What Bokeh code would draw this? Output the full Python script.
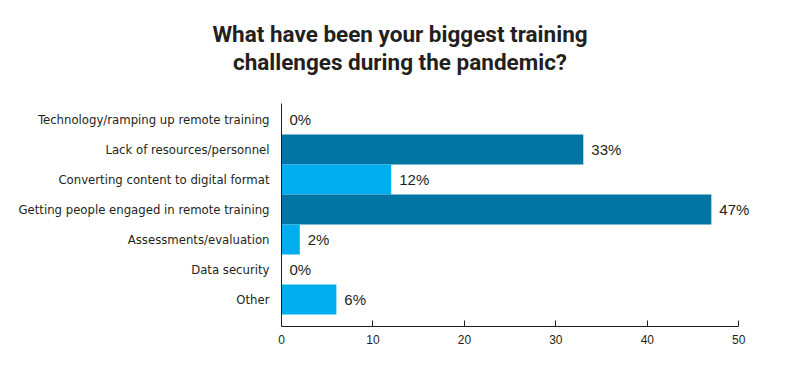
from bokeh.plotting import figure
from bokeh.models import ColumnDataSource, FixedTicker, Range1d, Div, LabelSet
from bokeh.core.properties import value
from bokeh.layouts import column
from bokeh.embed import file_html
from bokeh.resources import INLINE

categories = [
    "Technology/ramping up remote training",
    "Lack of resources/personnel",
    "Converting content to digital format",
    "Getting people engaged in remote training",
    "Assessments/evaluation",
    "Data security",
    "Other",
]
values = [0, 33, 12, 47, 2, 0, 6]
colors = ["#00AEEF", "#0075A3", "#00AEEF", "#0075A3", "#00AEEF", "#0075A3", "#00AEEF"]
x_ticks = [0, 10, 20, 30, 40, 50]
title_lines = ["What have been your biggest training", "challenges during the pandemic?"]

idx = list(range(len(categories)))
src = ColumnDataSource(dict(
    y=idx, v=values, c=colors,
    lab=[f"{v}%" for v in values],
))

TXT = "#231f20"

title = Div(
    text="<br>".join(title_lines),
    width=790, height=80,
    styles={"text-align": "center", "font-family": "Roboto, 'Liberation Sans', sans-serif",
            "font-weight": "bold", "font-size": "22.5px", "line-height": "28px",
            "color": TXT, "padding-top": "15px", "width": "790px"},
)

p = figure(width=798, height=276, output_backend="svg", toolbar_location=None,
           x_range=Range1d(0, 55), y_range=Range1d(6.5 + 12 / 30, -0.5 - 1 / 30),
           min_border_left=281, min_border_right=14, min_border_top=13, min_border_bottom=40)
p.hbar(y="y", right="v", left=0, height=1.0, fill_color="c", line_color=None, source=src)
labels = LabelSet(x="v", y="y", text="lab", x_offset=8, text_baseline="middle", text_align="left",
                  text_font_size=value("15px"), text_color=TXT, source=src,
                  text_font=value("Liberation Sans"))
p.add_layout(labels)

p.xgrid.visible = False
p.ygrid.visible = False
p.outline_line_color = None

xa = p.xaxis[0]
xa.ticker = FixedTicker(ticks=x_ticks)
xa.bounds = (0, 50)
xa.major_tick_in = 6
xa.major_tick_out = 0
xa.minor_tick_line_color = None
xa.axis_line_color = "#231f20"
xa.major_tick_line_color = "#231f20"
xa.major_label_text_font_size = "12px"
xa.major_label_text_color = TXT
xa.major_label_text_font = "Liberation Sans"
xa.major_label_standoff = 8

ya = p.yaxis[0]
ya.ticker = FixedTicker(ticks=idx)
ya.major_label_overrides = {i: c for i, c in enumerate(categories)}
ya.major_tick_line_color = None
ya.minor_tick_line_color = None
ya.axis_line_color = "#231f20"
ya.major_label_text_font_size = "13px"
ya.major_label_text_color = TXT
ya.major_label_text_font = "DejaVu Sans Condensed"
ya.major_label_standoff = 6

layout = column(title, p, spacing=0)
open("out.html", "w").write(file_html(layout, INLINE))
